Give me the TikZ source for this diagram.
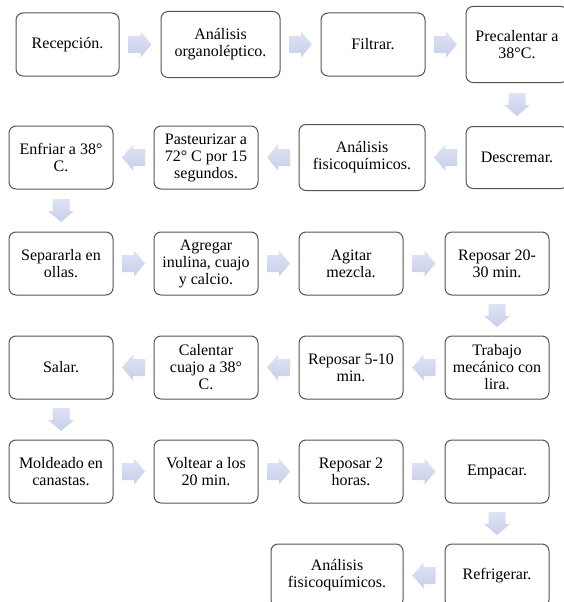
\documentclass[tikz,border=0pt]{standalone}
\usepackage{fontspec}
\setmainfont{Liberation Serif}
\usepackage{tikz}
\usetikzlibrary{positioning,calc}

\definecolor{boxline}{RGB}{85,85,85}
\definecolor{arrowtop}{RGB}{222,226,244}
\definecolor{arrowbottom}{RGB}{200,207,235}

\begin{document}
\begin{tikzpicture}[
    stepbox/.style={rectangle, draw=boxline, fill=white, line width=1pt, rounded corners=7pt, minimum width=104pt, minimum height=63pt, inner sep=2pt, align=center, font=\fontsize{16}{17}\selectfont},
    blockarrow/.pic={\shade[top color=arrowtop, bottom color=arrowbottom, shading angle=0] (-11.5pt,-8.5pt) -- (0.5pt,-8.5pt) -- (0.5pt,-13pt) -- (11.5pt,0pt) -- (0.5pt,13pt) -- (0.5pt,8.5pt) -- (-11.5pt,8.5pt) -- cycle;}
]
    \useasboundingbox (0,0) rectangle (563pt,-602pt);

    % Row 1
    \node[stepbox, minimum width=103pt] (recep) at (67.5pt,-44.5pt) {Recepción.};
    \node[stepbox, minimum width=119pt, minimum height=66pt, right=41pt of recep] (organo) {Análisis\\organoléptico.};
    \node[stepbox, right=40pt of organo] (filtrar) {Filtrar.};
    \node[stepbox, minimum width=102pt, minimum height=76pt, right=40pt of filtrar] (precal) {Precalentar a\\38°C.};

    % Row 2
    \node[stepbox, minimum width=102pt, minimum height=62pt, below=43pt of precal] (descrem) {Descremar.};
    \node[stepbox, minimum width=126pt, minimum height=66pt, left=40pt of descrem] (fisico) {Análisis\\fisicoquímicos.};
    \node[stepbox, left=40pt of fisico] (pasteur) {Pasteurizar a\\72° C por 15\\segundos.};
    \node[stepbox, left=40pt of pasteur] (enfriar) {Enfriar a 38°\\C.};

    % Row 3
    \node[stepbox, below=42pt of enfriar] (separar) {Separarla en\\ollas.};
    \node[stepbox, right=40pt of separar] (agregar) {Agregar\\inulina, cuajo\\y calcio.};
    \node[stepbox, right=40pt of agregar] (agitar) {Agitar\\mezcla.};
    \node[stepbox, right=41pt of agitar] (reposa) {Reposar 20-\\30 min.};

    % Row 4
    \node[stepbox, below=40pt of reposa] (trabajo) {Trabajo\\mecánico con\\lira.};
    \node[stepbox, left=41pt of trabajo] (reposb) {Reposar 5-10\\min.};
    \node[stepbox, left=40pt of reposb] (calentar) {Calentar\\cuajo a 38°\\C.};
    \node[stepbox, left=40pt of calentar] (salar) {Salar.};

    % Row 5
    \node[stepbox, below=40pt of salar] (moldeado) {Moldeado en\\canastas.};
    \node[stepbox, right=40pt of moldeado] (voltear) {Voltear a los\\20 min.};
    \node[stepbox, right=40pt of voltear] (reposc) {Reposar 2\\horas.};
    \node[stepbox, right=41pt of reposc] (empacar) {Empacar.};

    % Row 6
    \node[stepbox, below=40pt of empacar] (refrig) {Refrigerar.};
    \node[stepbox, minimum width=132pt, left=41pt of refrig] (fisicob) {Análisis\\fisicoquímicos.};

    % Arrows
    \pic at ($(recep.east)!.5!(organo.west)$) {blockarrow};
    \pic at ($(organo.east)!.5!(filtrar.west)$) {blockarrow};
    \pic at ($(filtrar.east)!.5!(precal.west)$) {blockarrow};
    \pic[rotate=-90] at ($(precal.south)!.5!(descrem.north)$) {blockarrow};
    \pic[rotate=180] at ($(descrem.west)!.5!(fisico.east)$) {blockarrow};
    \pic[rotate=180] at ($(fisico.west)!.5!(pasteur.east)$) {blockarrow};
    \pic[rotate=180] at ($(pasteur.west)!.5!(enfriar.east)$) {blockarrow};
    \pic[rotate=-90] at ($(enfriar.south)!.5!(separar.north)$) {blockarrow};
    \pic at ($(separar.east)!.5!(agregar.west)$) {blockarrow};
    \pic at ($(agregar.east)!.5!(agitar.west)$) {blockarrow};
    \pic at ($(agitar.east)!.5!(reposa.west)$) {blockarrow};
    \pic[rotate=-90] at ($(reposa.south)!.5!(trabajo.north)$) {blockarrow};
    \pic[rotate=180] at ($(trabajo.west)!.5!(reposb.east)$) {blockarrow};
    \pic[rotate=180] at ($(reposb.west)!.5!(calentar.east)$) {blockarrow};
    \pic[rotate=180] at ($(calentar.west)!.5!(salar.east)$) {blockarrow};
    \pic[rotate=-90] at ($(salar.south)!.5!(moldeado.north)$) {blockarrow};
    \pic at ($(moldeado.east)!.5!(voltear.west)$) {blockarrow};
    \pic at ($(voltear.east)!.5!(reposc.west)$) {blockarrow};
    \pic at ($(reposc.east)!.5!(empacar.west)$) {blockarrow};
    \pic[rotate=-90] at ($(empacar.south)!.5!(refrig.north)$) {blockarrow};
    \pic[rotate=180] at ($(refrig.west)!.5!(fisicob.east)$) {blockarrow};
\end{tikzpicture}
\end{document}
